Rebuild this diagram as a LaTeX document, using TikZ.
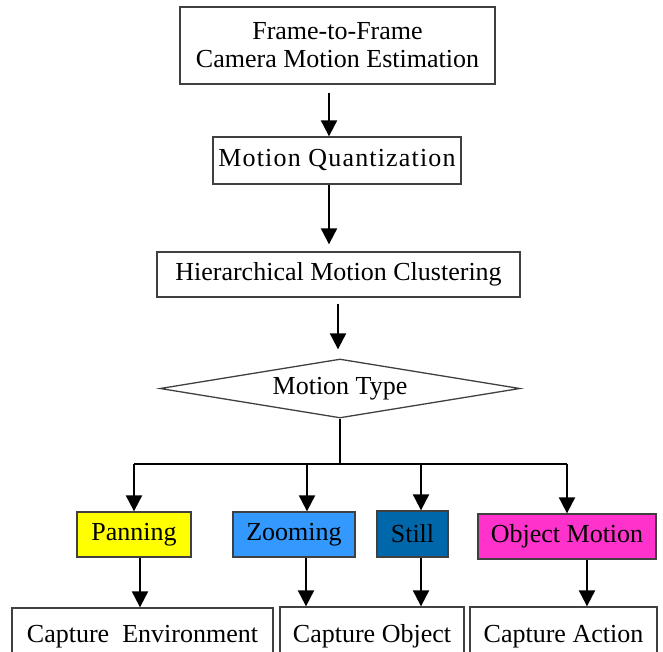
\documentclass[tikz,border=0pt]{standalone}
\usepackage{fontspec}
\setmainfont{Liberation Serif}
\usetikzlibrary{shapes.geometric, arrows.meta}

\definecolor{panyellow}{RGB}{255,255,0}
\definecolor{zoomblue}{RGB}{51,153,255}
\definecolor{stillblue}{RGB}{0,104,170}
\definecolor{objpink}{RGB}{255,51,204}

\begin{document}
\begin{tikzpicture}[x=1pt, y=-1pt,
        box/.style={draw=black!75, line width=1.3pt, inner sep=0pt, align=center,
            font=\fontsize{26}{28}\selectfont},
        arr/.style={line width=2pt, -{Triangle[width=16pt,length=16pt]}},
        busline/.style={line width=2pt}]
        \useasboundingbox (0,0) rectangle (663,652);
        \clip (0,0) rectangle (663,652);

        \node[box, minimum width=315pt, minimum height=77pt] (est) at (337.5,45.5) {Frame-to-Frame\\Camera Motion Estimation};
        \node[box, minimum width=248pt, minimum height=47pt] (quant) at (337,160.5) {\addfontfeature{LetterSpace=4.5}Motion Quantization};
        \node[box, minimum width=363pt, minimum height=45pt] (clust) at (338.5,274.5) {Hierarchical Motion Clustering};
        \node[box, diamond, aspect=6, minimum width=360pt, minimum height=59pt] (type) at (340,388.5) {Motion Type};

        \node[box, fill=panyellow, minimum width=114pt, minimum height=45pt] (pan) at (134,534.5) {Panning};
        \node[box, fill=zoomblue, minimum width=122pt, minimum height=45pt] (zoom) at (294,534.5) {Zooming};
        \node[box, fill=stillblue, minimum width=71pt, minimum height=46pt] (still) at (412.5,534) {Still};
        \node[box, fill=objpink, minimum width=178pt, minimum height=45pt] (objm) at (567,536.5) {Object Motion};

        \node[box, minimum width=261pt, minimum height=58pt] (env) at (142.5,637) {Capture~ Environment};
        \node[box, minimum width=184pt, minimum height=59pt] (obj) at (372,636.5) {Capture Object};
        \node[box, minimum width=187pt, minimum height=59pt] (act) at (563.5,636.5) {Capture Action};

        \draw[arr, shorten <=8pt] ([xshift=-8.5pt]est.south) -- ([xshift=-8pt]quant.north);
        \draw[arr, shorten >=7pt] ([xshift=-8pt]quant.south) -- ([xshift=-9.5pt]clust.north);
        \draw[arr, shorten <=6pt, shorten >=9pt] ([xshift=-0.5pt]clust.south) -- ([xshift=-2pt]type.north);

        % branches
        \coordinate (bus) at (340,464);
        \coordinate (zoomin) at ([xshift=13pt]zoom.north);
        \coordinate (stillin) at ([xshift=8.5pt]still.north);
        \draw[busline] (type.south) -- (bus);
        \draw[busline] (pan.north |- bus) -- (objm.north |- bus);
        \draw[arr] (pan.north |- bus) -- (pan.north);
        \draw[arr] (zoomin |- bus) -- (zoomin);
        \draw[arr] (stillin |- bus) -- (stillin);
        \draw[arr] (objm.north |- bus) -- (objm.north);

        \coordinate (panout) at ([xshift=6pt]pan.south);
        \coordinate (zoomout) at ([xshift=12pt]zoom.south);
        \coordinate (stillout) at ([xshift=8.5pt]still.south);
        \coordinate (objmout) at ([xshift=20pt]objm.south);
        \draw[arr] (panout) -- (panout |- env.north);
        \draw[arr] (zoomout) -- (zoomout |- obj.north);
        \draw[arr] (stillout) -- (stillout |- obj.north);
        \draw[arr] (objmout) -- (objmout |- act.north);
\end{tikzpicture}
\end{document}
